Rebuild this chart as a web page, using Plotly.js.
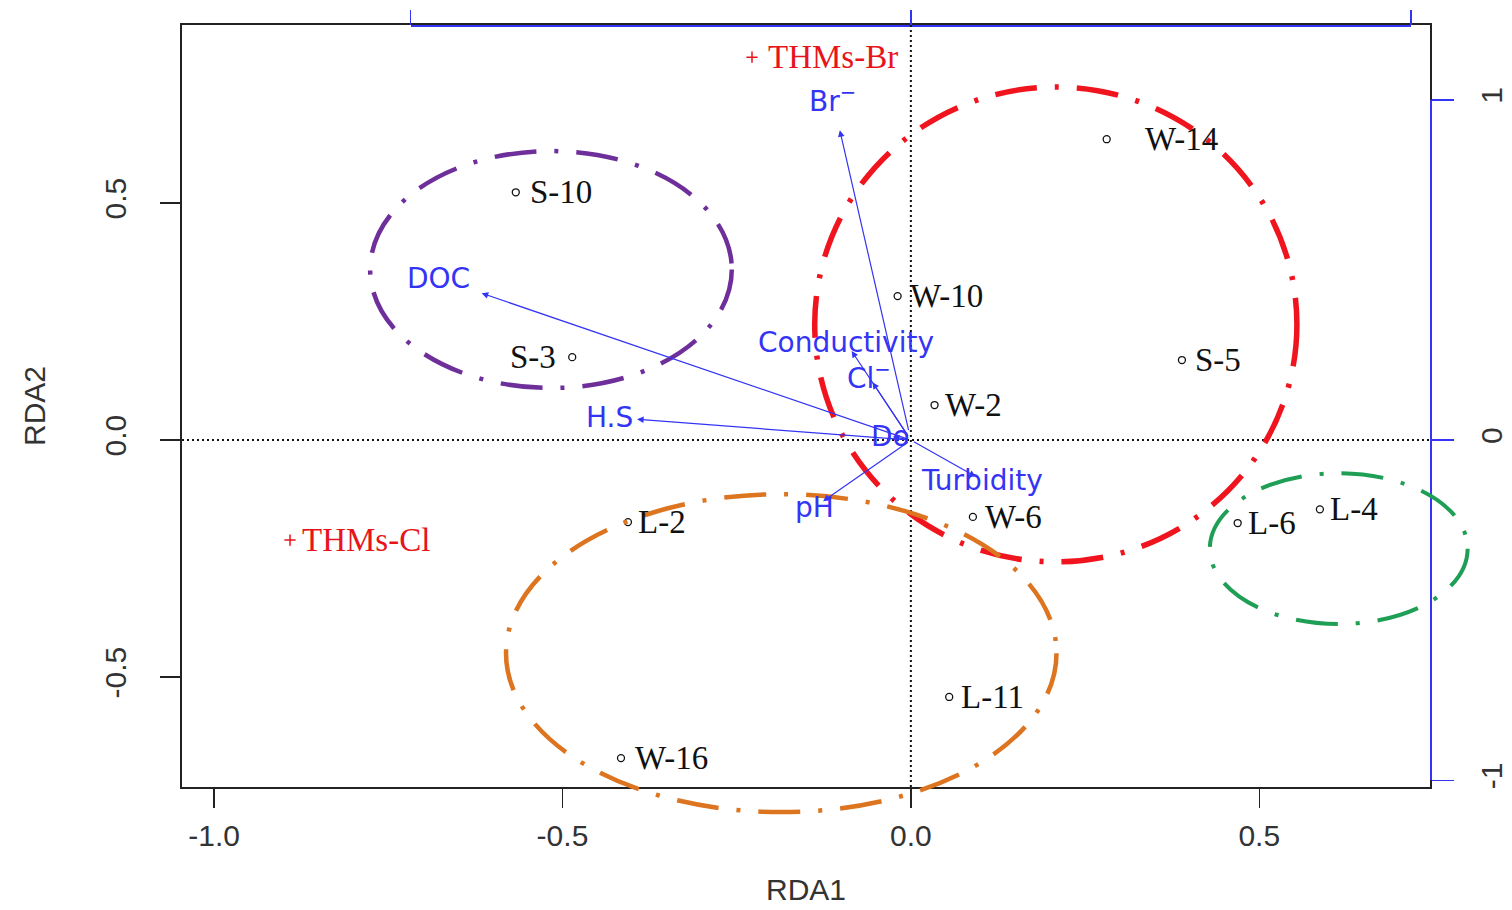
<!DOCTYPE html>
<html>
<head>
<meta charset="utf-8">
<script src="https://cdn.plot.ly/plotly-3.0.1.min.js"></script>
<style>
  html, body { margin: 0; padding: 0; background: #ffffff; }
  #chart { width: 1512px; height: 910px; }
</style>
</head>
<body>
<div id="chart"></div>
<script>
// ---- Site scores (RDA1, RDA2) ----
const siteNames = ['W-14', 'S-10', 'S-3', 'W-10', 'S-5', 'W-2', 'W-6', 'L-2', 'L-6', 'L-4', 'L-11', 'W-16'];
const siteX = [0.281, -0.567, -0.486, -0.019, 0.389, 0.034, 0.089, -0.406, 0.469, 0.587, 0.055, -0.416];
const siteY = [0.635, 0.523, 0.175, 0.304, 0.169, 0.074, -0.162, -0.173, -0.175, -0.146, -0.542, -0.671];

// ---- Response (species) scores ----
const speciesNames = ['THMs-Br', 'THMs-Cl'];
const speciesX = [-0.228, -0.891];
const speciesY = [0.808, -0.211];

// ---- Environmental biplot arrows (tips) ----
const envNames = ['Br<sup>−</sup>', 'DOC', 'H.S', 'Conductivity', 'Cl<sup>−</sup>', 'Do', 'Turbidity', 'pH'];
const envX = [-0.102, -0.616, -0.393, -0.085, -0.055, -0.026, 0.093, -0.126];
const envY = [0.654, 0.310, 0.044, 0.188, 0.122, 0.007, -0.077, -0.129];

// ---- Group ellipses (bounding extents in RDA units) ----
const groupX0 = [-0.776, -0.138, -0.581, 0.429];
const groupX1 = [-0.257, 0.554, 0.209, 0.799];
const groupY0 = [0.110, -0.257, -0.785, -0.388];
const groupY1 = [0.610, 0.745, -0.114, -0.070];

// ---- Axis ticks ----
const xTicks = [-1.0, -0.5, 0.0, 0.5];
const xTickText = ['-1.0', '-0.5', '0.0', '0.5'];
const yTicks = [-0.5, 0.0, 0.5];
const yTickText = ['-0.5', '0.0', '0.5'];
const secTicks = [-1, 0, 1];
const secTickText = ['-1', '0', '1'];

// ---- styles ----
const xr = [-1.046, 0.745];
const yr = [-0.732, 0.876];
const secScale = 0.718;              // one secondary unit in main units
const arrowLabelMul = 1.1;
const groupColors = ['#6f2f9a', '#f0141e', '#dc7420', '#1f9e55'];
const groupWidths = [4.5, 5.5, 4.5, 4];
const siteAnchor = ['left','left','right','left','left','left','left','left','left','left','left','left'];
const siteShift  = [36, 12, -14, 10, 11, 8, 10, 8, 8, 8, 10, 12];
const speciesShift = [14, 10];

const AX = '#333333';
const BLUE = '#3434f4';
const RED = '#e8141c';
const sans = 'Liberation Sans, Arial, sans-serif';
const sansLab = 'DejaVu Sans, Liberation Sans, sans-serif';
const serif = 'Liberation Serif, Times New Roman, serif';

const px = v => (v - xr[0]) / (xr[1] - xr[0]);
const py = v => (v - yr[0]) / (yr[1] - yr[0]);

const traces = [
  {
    type: 'scatter', mode: 'markers', x: siteX, y: siteY, cliponaxis: false,
    marker: { symbol: 'circle-open', size: 7, color: '#111', line: { width: 1.3, color: '#111' } },
    hoverinfo: 'text', text: siteNames
  },
  {
    type: 'scatter', mode: 'markers', x: speciesX, y: speciesY, cliponaxis: false,
    marker: { symbol: 'cross-thin-open', size: 8, color: RED, line: { width: 1.5, color: RED } },
    hoverinfo: 'text', text: speciesNames
  },
  { type: 'scatter', x: [], y: [], xaxis: 'x2', yaxis: 'y2', showlegend: false }
];

const annotations = [];
siteNames.forEach((n, i) => annotations.push({
  x: siteX[i], y: siteY[i], xref: 'x', yref: 'y', text: n, showarrow: false,
  xanchor: siteAnchor[i], yanchor: 'middle', xshift: siteShift[i],
  font: { family: serif, size: 33, color: '#111' }
}));
speciesNames.forEach((n, i) => annotations.push({
  x: speciesX[i], y: speciesY[i], xref: 'x', yref: 'y', text: n, showarrow: false,
  xanchor: 'left', yanchor: 'middle', xshift: speciesShift[i],
  font: { family: serif, size: 33, color: RED }
}));
envNames.forEach((n, i) => {
  annotations.push({
    x: envX[i], y: envY[i], ax: 0, ay: 0, xref: 'x', yref: 'y', axref: 'x', ayref: 'y',
    text: ' ', showarrow: true, arrowhead: 2, arrowsize: 1.1, arrowwidth: 1.2,
    arrowcolor: BLUE, standoff: 0, startstandoff: 0
  });
  annotations.push({
    x: envX[i] * arrowLabelMul, y: envY[i] * arrowLabelMul, xref: 'x', yref: 'y',
    text: n, showarrow: false, xanchor: 'center', yanchor: 'middle',
    font: { family: sansLab, size: 28, color: BLUE }
  });
});

const shapes = [
  { type: 'line', xref: 'x', yref: 'paper', x0: 0, x1: 0, y0: 0, y1: 1,
    line: { color: '#111', width: 2, dash: '2px,3px' }, layer: 'above' },
  { type: 'line', xref: 'paper', yref: 'y', x0: 0, x1: 1, y0: 0, y1: 0,
    line: { color: '#111', width: 2, dash: '2px,3px' }, layer: 'above' }
];
groupX0.forEach((_, i) => shapes.push({
  type: 'circle', xref: 'paper', yref: 'paper',
  x0: px(groupX0[i]), x1: px(groupX1[i]), y0: py(groupY0[i]), y1: py(groupY1[i]),
  line: { color: groupColors[i], width: groupWidths[i], dash: '42px,18px,4px,18px' },
  fillcolor: 'rgba(0,0,0,0)', layer: 'above'
}));

const tickFont = { family: sans, size: 30, color: AX };

const layout = {
  width: 1512, height: 910,
  margin: { l: 182, r: 82, t: 25, b: 123, pad: 0 },
  paper_bgcolor: '#ffffff', plot_bgcolor: 'rgba(0,0,0,0)',
  showlegend: false, hovermode: 'closest',
  xaxis: {
    range: xr, tickvals: xTicks, ticktext: xTickText, ticks: 'outside', ticklen: 19,
    tickwidth: 1.5, tickcolor: '#222', showline: true, linecolor: '#222', linewidth: 1.6,
    mirror: true, showgrid: false, zeroline: false, tickfont: tickFont, ticklabelstandoff: 2,
    title: { text: 'RDA1', font: { family: sans, size: 30, color: AX }, standoff: 28 },
    automargin: false
  },
  yaxis: {
    range: yr, tickvals: yTicks, ticktext: yTickText, ticks: 'outside', ticklen: 20,
    tickwidth: 1.5, tickcolor: '#222', showline: true, linecolor: '#222', linewidth: 1.6,
    mirror: true, showgrid: false, zeroline: false, tickfont: tickFont, tickangle: -90,
    ticklabelstandoff: 22,
    title: { text: 'RDA2', font: { family: sans, size: 30, color: AX }, standoff: 45 },
    automargin: false
  },
  xaxis2: {
    domain: [px(-secScale), px(secScale)], range: [-1, 1], anchor: 'free', position: 1,
    side: 'top', tickvals: secTicks, ticktext: secTickText, ticks: 'outside', ticklen: 15,
    tickwidth: 1.5, tickcolor: BLUE, showline: true, linecolor: BLUE, linewidth: 1.6,
    showticklabels: false, showgrid: false, zeroline: false, automargin: false
  },
  yaxis2: {
    domain: [py(-secScale), py(secScale)], range: [-1, 1], anchor: 'free', position: 1,
    side: 'right', tickvals: secTicks, ticktext: secTickText, ticks: 'outside', ticklen: 22,
    tickwidth: 1.5, tickcolor: BLUE, showline: true, linecolor: BLUE, linewidth: 1.6,
    tickfont: tickFont, tickangle: -90, ticklabelstandoff: 12,
    showgrid: false, zeroline: false, automargin: false
  },
  annotations: annotations,
  shapes: shapes
};

Plotly.newPlot('chart', traces, layout, { displayModeBar: false, staticPlot: true });
</script>
</body>
</html>
